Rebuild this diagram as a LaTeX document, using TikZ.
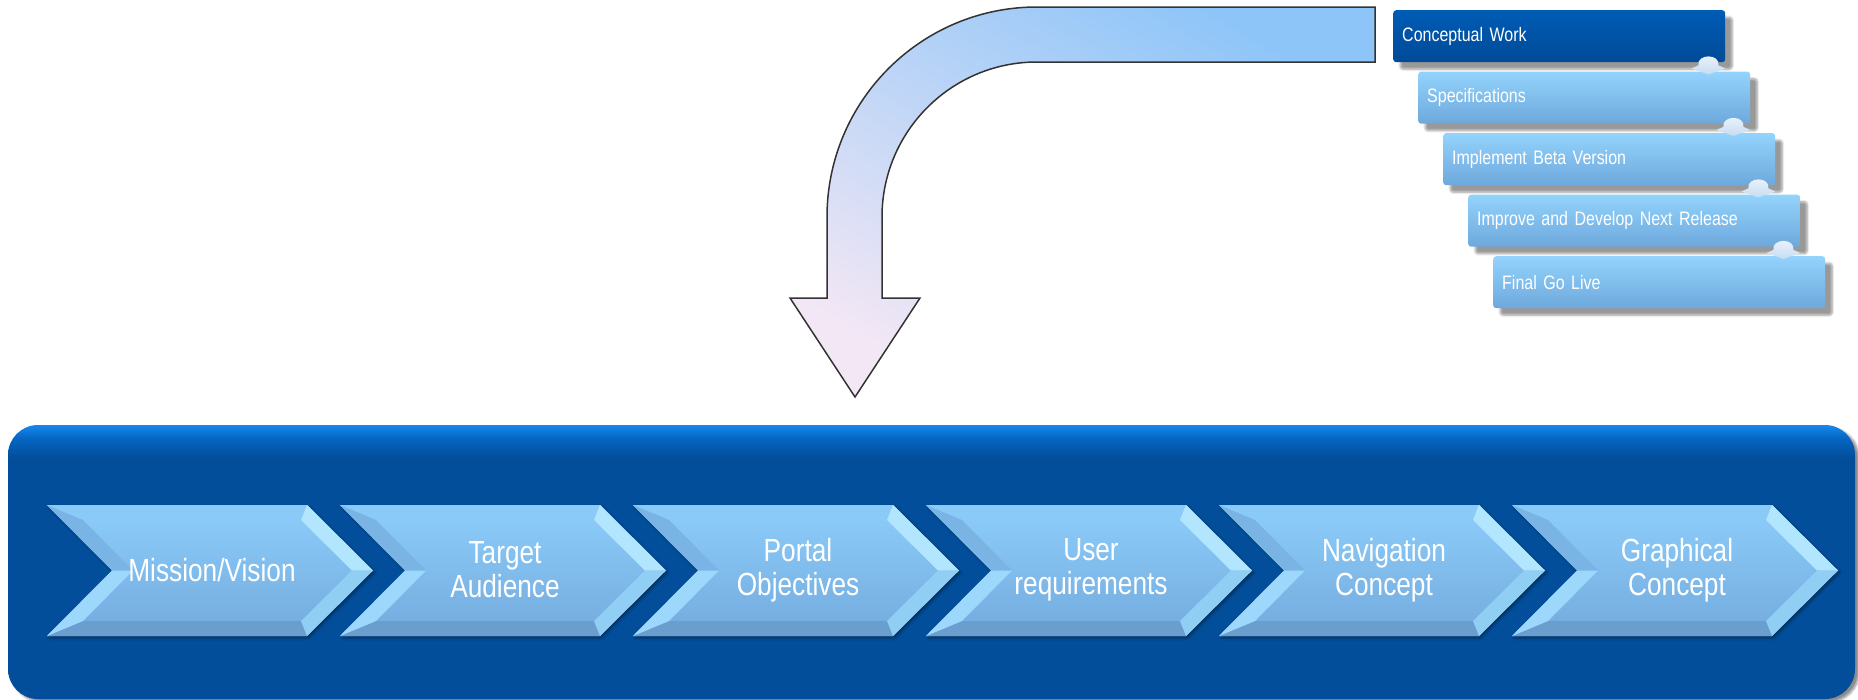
\documentclass[tikz,border=0pt]{standalone}
\usepackage{fontspec}
\setmainfont{Liberation Sans}[FakeStretch=0.82]
\usetikzlibrary{shadows.blur,calc}
\definecolor{panelbase}{HTML}{024E9A}
\definecolor{panelmid}{HTML}{0565C2}
\definecolor{paneltop}{HTML}{1688EE}
\definecolor{chT}{HTML}{8DCEFB}
\definecolor{chB}{HTML}{73AADD}
\definecolor{fTop}{HTML}{8ACAF8}
\definecolor{fBot}{HTML}{6A9ECF}
\definecolor{fRU}{HTML}{B2E5FE}
\definecolor{fRL}{HTML}{90CEF4}
\definecolor{fLU}{HTML}{7AB4E4}
\definecolor{fLL}{HTML}{9DD7FB}
\definecolor{lbT}{HTML}{93D3FC}
\definecolor{lbB}{HTML}{6EA8DC}
\definecolor{dbT}{HTML}{005CB4}
\definecolor{dbB}{HTML}{004A98}
\definecolor{linkT}{HTML}{EEF4FB}
\definecolor{linkB}{HTML}{C6DCF2}
\definecolor{arrBlue}{HTML}{8EC5F8}
\definecolor{arrMid}{HTML}{BCD4F0}
\definecolor{arrLav}{HTML}{F3E7F5}
\definecolor{arrLine}{HTML}{333333}
\pgfdeclareverticalshading{panelshade}{100bp}{color(0bp)=(panelbase); color(25bp)=(panelbase); color(69bp)=(panelbase); color(72.5bp)=(panelmid); color(75bp)=(paneltop); color(100bp)=(paneltop)}
\tikzset{
  panel/.style={shade, shading=panelshade, minimum width=1847pt, minimum height=274pt, rounded corners=30pt, inner sep=0pt,
    blur shadow={shadow xshift=4pt, shadow yshift=-3pt, shadow opacity=45, shadow blur steps=6}},
  chevtext/.style={text=white, align=center, font=\fontsize{32}{34}\selectfont, inner sep=0pt},
  stepbox/.style={minimum width=332pt, minimum height=52pt, text width=314pt, inner xsep=9pt, inner ysep=0pt,
    align=left, anchor=north west, rounded corners=3pt, text=white, font=\fontsize{19.5}{22}\selectfont,
    blur shadow={shadow xshift=7pt, shadow yshift=-7pt, shadow opacity=40, shadow blur steps=8, shadow blur extra rounding=3pt}},
  lightbox/.style={stepbox, top color=lbT, bottom color=lbB},
  darkbox/.style={stepbox, top color=dbT, bottom color=dbB},
  link/.style={top color=linkT, bottom color=linkB},
  bigarrow/.style={draw=arrLine, line width=1.5pt, line join=miter, top color=arrBlue, middle color=arrMid, bottom color=arrLav, shading angle=-30},
}
\newcommand\chevron[3]{%
\begin{scope}[shift={(#1,505)}]
  \shade[top color=chT, bottom color=chB, blur shadow={shadow xshift=2pt, shadow yshift=-2pt, shadow opacity=35, shadow blur steps=4}]
    (0,0)--(260,0)--(326,65.5)--(260,131)--(0,131)--(65,65.5)--cycle;
  \fill[fTop] (0,0)--(260,0)--(254,15)--(36,15)--cycle;
  \fill[fBot] (0,131)--(260,131)--(254,116)--(36,116)--cycle;
  \fill[fRU] (260,0)--(326,65.5)--(305,65.5)--(254,15)--cycle;
  \fill[fRL] (326,65.5)--(260,131)--(254,116)--(305,65.5)--cycle;
  \fill[fLU] (0,0)--(65,65.5)--(86,65.5)--(36,15)--cycle;
  \fill[fLL] (65,65.5)--(0,131)--(36,116)--(86,65.5)--cycle;
  \node[chevtext] (#2) at (165,65) {#3};
\end{scope}}
\begin{document}
\begin{tikzpicture}[x=1pt, y=-1pt]
\useasboundingbox (0,0) rectangle (1858,699);
% bent arrow
\path[bigarrow] (1375,7) -- (1037,7) arc[start angle=270, end angle=180, radius=210] -- (827,298) -- (790,298) -- (855,397)
  -- (920,298) -- (882,298) -- (882,217) arc[start angle=180, end angle=270, radius=155] -- (1375,62) -- cycle;
% panel
\node[panel] (panel) at (931.5,562) {};
\chevron{47}{c1}{Mission/Vision}
\chevron{340}{c2}{Target\\Audience}
\chevron{633}{c3}{Portal\\Objectives}
\chevron{926}{c4}{User\\requirements}
\chevron{1219}{c5}{Navigation\\Concept}
\chevron{1512}{c6}{Graphical\\Concept}
% step boxes
\node[darkbox] (b1) at (1393,10) {Conceptual Work};
\node[lightbox] (b2) at (1418,71.5) {Specifications};
\node[lightbox] (b3) at (1443,133) {Implement Beta Version};
\node[lightbox] (b4) at (1468,194.5) {Improve and Develop Next Release};
\node[lightbox] (b5) at (1493,256) {Final Go Live};
\foreach \a in {b1,b2,b3,b4}{
  \coordinate (m) at ($(\a.south east)+(-17,3)$);
  \path[link] ($(m)+(-17,3)$) -- ($(m)+(-10,0)$) .. controls ($(m)+(-12,-12)$) and ($(m)+(12,-12)$) .. ($(m)+(10,0)$)
     -- ($(m)+(17,3)$) -- ($(m)+(0,9)$) -- cycle;
}
\end{tikzpicture}
\end{document}
